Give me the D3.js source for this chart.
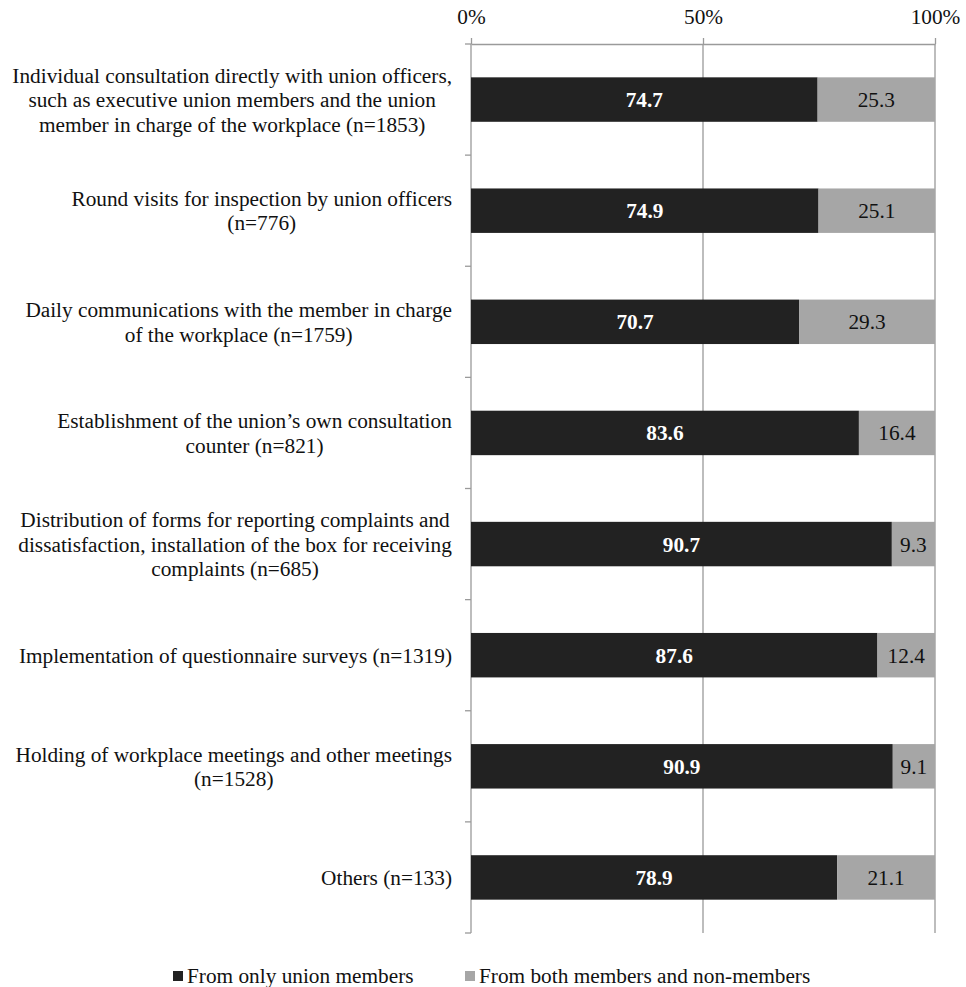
<!DOCTYPE html>
<html>
<head>
<meta charset="utf-8">
<script src="https://cdn.jsdelivr.net/npm/d3@7"></script>
<style>
  body { margin: 0; background: #fff; }
  svg { display: block; font-family: "Liberation Serif", "Times New Roman", serif; }
</style>
</head>
<body>
<div id="chart"></div>
<script>
const categories = [
    ["Individual consultation directly with union officers,", "such as executive union members and the union", "member in charge of the workplace (n=1853)"],
    ["Round visits for inspection by union officers", "(n=776)"],
    ["Daily communications with the member in charge", "of the workplace (n=1759)"],
    ["Establishment of the union\u2019s own consultation", "counter (n=821)"],
    ["Distribution of forms for reporting complaints and", "dissatisfaction, installation of the box for receiving", "complaints (n=685)"],
    ["Implementation of questionnaire surveys (n=1319)"],
    ["Holding of workplace meetings and other meetings", "(n=1528)"],
    ["Others (n=133)"]
];
const onlyMembers = [74.7, 74.9, 70.7, 83.6, 90.7, 87.6, 90.9, 78.9];
const bothMembers = [25.3, 25.1, 29.3, 16.4, 9.3, 12.4, 9.1, 21.1];
const seriesNames = ["From only union members", "From both members and non-members"];
const seriesColors = ["#222222", "#a6a6a6"];
const xTicks = [0, 50, 100];

const width = 966, height = 987;
const plotLeft = 471, plotRight = 935, plotTop = 44, plotBottom = 933;
const fontSize = 21.3;

const svg = d3.select("#chart").append("svg")
    .attr("width", width)
    .attr("height", height);

const x = d3.scaleLinear().domain([0, 100]).range([plotLeft, plotRight]);
const y = d3.scaleBand()
    .domain(d3.range(categories.length))
    .range([plotTop, plotBottom])
    .paddingInner(0.6)
    .paddingOuter(0.3);

// gridlines
svg.append("g")
    .selectAll("line")
    .data(xTicks.filter(d => d > 0))
    .enter().append("line")
    .attr("x1", d => x(d)).attr("x2", d => x(d))
    .attr("y1", plotTop).attr("y2", plotBottom)
    .attr("stroke", "#9a9a9a")
    .attr("stroke-width", 1.3);

// top axis
const xAxis = svg.append("g")
    .attr("transform", `translate(0,${plotTop})`)
    .call(d3.axisTop(x).tickValues(xTicks).tickSize(6).tickSizeOuter(0).tickFormat(d => d + "%"));
xAxis.select(".domain").attr("stroke", "#9a9a9a").attr("stroke-width", 1.3);
xAxis.selectAll(".tick line").attr("stroke", "#9a9a9a").attr("stroke-width", 1.3);
xAxis.selectAll(".tick text")
    .attr("font-family", "Liberation Serif, serif")
    .attr("font-size", fontSize)
    .attr("fill", "#111")
    .attr("y", -20);

// left axis with ticks at band boundaries
const step = y.step();
const boundaries = d3.range(categories.length + 1).map(i => plotTop + i * step);
svg.append("line")
    .attr("x1", plotLeft).attr("x2", plotLeft)
    .attr("y1", plotTop).attr("y2", plotBottom)
    .attr("stroke", "#9a9a9a").attr("stroke-width", 1.3);
svg.append("g")
    .selectAll("line")
    .data(boundaries)
    .enter().append("line")
    .attr("x1", plotLeft - 6).attr("x2", plotLeft)
    .attr("y1", d => d).attr("y2", d => d)
    .attr("stroke", "#9a9a9a").attr("stroke-width", 1.3);

// bars
const rows = categories.map((c, i) => ({ i, a: onlyMembers[i], b: bothMembers[i] }));

const barG = svg.append("g");
barG.selectAll(".bar-a")
    .data(rows)
    .enter().append("rect")
    .attr("class", "bar-a")
    .attr("x", x(0))
    .attr("y", d => y(d.i))
    .attr("width", d => x(d.a) - x(0))
    .attr("height", y.bandwidth())
    .attr("fill", seriesColors[0]);

barG.selectAll(".bar-b")
    .data(rows)
    .enter().append("rect")
    .attr("class", "bar-b")
    .attr("x", d => x(d.a))
    .attr("y", d => y(d.i))
    .attr("width", d => x(d.a + d.b) - x(d.a))
    .attr("height", y.bandwidth())
    .attr("fill", seriesColors[1]);

barG.selectAll(".lab-a")
    .data(rows)
    .enter().append("text")
    .attr("x", d => (x(0) + x(d.a)) / 2)
    .attr("y", d => y(d.i) + y.bandwidth() / 2)
    .attr("dy", "0.35em")
    .attr("text-anchor", "middle")
    .attr("font-size", fontSize)
    .attr("font-weight", "bold")
    .attr("fill", "#fff")
    .text(d => d.a.toFixed(1));

barG.selectAll(".lab-b")
    .data(rows)
    .enter().append("text")
    .attr("x", d => (x(d.a) + x(d.a + d.b)) / 2)
    .attr("y", d => y(d.i) + y.bandwidth() / 2)
    .attr("dy", "0.35em")
    .attr("text-anchor", "middle")
    .attr("font-size", fontSize)
    .attr("fill", "#111")
    .text(d => d.b.toFixed(1));

// category labels: centered lines, block right-aligned
const labelRight = 452;
const lineH = 24.5;
categories.forEach((lines, i) => {
    const t = svg.append("text")
        .attr("font-size", fontSize)
        .attr("fill", "#111")
        .attr("text-anchor", "middle");
    const cy = y(i) + y.bandwidth() / 2;
    const y0 = cy - (lines.length - 1) * lineH / 2;
    lines.forEach((ln, k) => {
        t.append("tspan").attr("x", 0).attr("y", y0 + k * lineH).attr("dy", "0.35em").text(ln);
    });
    const w = t.node().getBBox().width;
    t.selectAll("tspan").attr("x", labelRight - w / 2);
});

// legend
const legend = svg.append("g").attr("transform", "translate(0,976)");
const legendX = [173, 465];
seriesNames.forEach((name, i) => {
    legend.append("rect")
        .attr("x", legendX[i]).attr("y", -5)
        .attr("width", 10).attr("height", 10)
        .attr("fill", seriesColors[i]);
    legend.append("text")
        .attr("x", legendX[i] + 14)
        .attr("y", 0)
        .attr("dy", "0.35em")
        .attr("font-size", fontSize)
        .attr("fill", "#111")
        .text(name);
});
</script>
</body>
</html>
